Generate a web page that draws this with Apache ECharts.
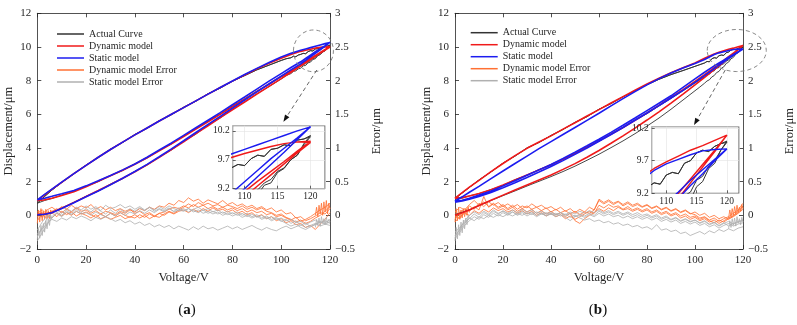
<!DOCTYPE html>
<html>
<head>
<meta charset="utf-8">
<script src="https://cdn.jsdelivr.net/npm/echarts@6/dist/echarts.min.js"></script>
<style>
html, body { margin: 0; padding: 0; background: #fff; }
#chart { width: 797px; height: 325px; }
</style>
</head>
<body>
<div id="chart"></div>
<script>
// voltage grid of the model branches
const V_LOOP = [0, 3, 6, 10, 15, 20, 25, 30, 35, 40, 45, 50, 55, 60, 65, 70, 75, 80, 85, 90, 95, 100, 104, 108, 110, 112, 114, 116, 118, 120];
// voltage grid of the measured branches (finer near the turning point)
const V_ACT = [0, 3, 6, 10, 15, 20, 25, 30, 35, 40, 45, 50, 55, 60, 65, 70, 75, 80, 85, 90, 95,
  100, 102, 104, 105, 106, 107, 108, 109, 110, 111, 112, 113, 114, 115, 116, 117, 118, 119, 120];
// voltage grid of the error traces
const V_ERR = [0, 2, 4, 6, 8, 10, 12, 14, 16, 18, 20, 22, 24, 26, 28, 30, 32, 34, 36, 38, 40, 42, 44, 46, 48, 50, 52, 54, 56, 58,
  60, 62, 64, 66, 68, 70, 72, 74, 76, 78, 80, 82, 84, 86, 88, 90, 92, 94, 96, 98, 100, 102, 104, 106, 108, 110, 112, 114, 116, 118, 120];
// dense bits at the two ends of the sweep
const V_START = [0, 0.5, 1, 1.5, 2, 2.5, 3, 3.5, 4, 4.5, 5, 5.5, 6];
const V_END = [114, 114.5, 115, 115.5, 116, 116.5, 117, 117.5, 118, 118.5, 119, 119.5, 120];

const NAMES = ['Actual Curve', 'Dynamic model', 'Static model', 'Dynamic model Error', 'Static model Error'];

// ---- panel (a) : displacement (um) ----
const A_ACT_UP = [0.72, 1.12, 1.5, 1.95, 2.47, 2.98, 3.44, 3.93, 4.33, 4.8, 5.17, 5.62, 5.98, 6.42, 6.78, 7.22, 7.56, 7.97, 8.3, 8.64, 8.92,
  9.2, 9.3, 9.36, 9.45, 9.42, 9.52, 9.56, 9.62, 9.6, 9.72, 9.78, 9.76, 9.88, 9.9, 9.96, 9.94, 10.04, 10.06, 10.12];
const A_ACT_MID = [0.75, 0.88, 1.0, 1.2, 1.42, 1.72, 2.0, 2.36, 2.66, 3.06, 3.4, 3.86, 4.24, 4.72, 5.13, 5.6, 6.02, 6.5, 6.92, 7.38, 7.78,
  8.22, 8.36, 8.5, 8.62, 8.66, 8.8, 8.84, 8.96, 9.0, 9.12, 9.18, 9.3, 9.36, 9.5, 9.56, 9.7, 9.78, 9.96, 10.1];
const A_ACT_LOW = [0.0, 0.05, 0.16, 0.43, 0.76, 1.13, 1.44, 1.85, 2.18, 2.62, 2.99, 3.47, 3.88, 4.4, 4.82, 5.36, 5.78, 6.3, 6.74, 7.22, 7.65,
  8.1, 8.3, 8.42, 8.55, 8.58, 8.7, 8.74, 8.88, 8.9, 9.06, 9.1, 9.26, 9.3, 9.48, 9.55, 9.7, 9.78, 9.98, 10.12];
const A_DYN_UP = [0.88, 1.21, 1.54, 1.96, 2.48, 2.97, 3.45, 3.91, 4.35, 4.78, 5.19, 5.6, 6.0, 6.4, 6.8, 7.2, 7.59, 7.97, 8.34, 8.7, 9.03, 9.33, 9.55, 9.74, 9.81, 9.87, 9.93, 9.98, 10.01, 10.03];
const A_DYN_MID = [0.85, 0.92, 1.02, 1.18, 1.4, 1.7, 2.02, 2.35, 2.68, 3.03, 3.42, 3.83, 4.25, 4.68, 5.12, 5.56, 6.0, 6.45, 6.9, 7.35, 7.8, 8.25, 8.6, 8.95, 9.15, 9.33, 9.5, 9.67, 9.85, 10.02];
const A_DYN_LOW = [0.05, 0.08, 0.17, 0.42, 0.77, 1.12, 1.47, 1.83, 2.2, 2.58, 3.0, 3.44, 3.9, 4.37, 4.85, 5.32, 5.8, 6.27, 6.73, 7.2, 7.66, 8.12, 8.5, 8.88, 9.06, 9.25, 9.44, 9.63, 9.82, 10.0];
const A_STA_UP = [0.92, 1.24, 1.56, 1.97, 2.48, 2.97, 3.45, 3.91, 4.35, 4.78, 5.19, 5.6, 6.0, 6.4, 6.8, 7.2, 7.59, 7.98, 8.36, 8.73, 9.08, 9.4, 9.62, 9.8, 9.88, 9.96, 10.04, 10.12, 10.2, 10.27];
const A_STA_MID = [0.92, 1.02, 1.13, 1.28, 1.48, 1.75, 2.05, 2.37, 2.7, 3.05, 3.45, 3.88, 4.3, 4.75, 5.2, 5.65, 6.1, 6.57, 7.03, 7.5, 7.97, 8.42, 8.78, 9.12, 9.32, 9.52, 9.72, 9.9, 10.08, 10.27];
const A_STA_LOW = [0.03, 0.06, 0.15, 0.4, 0.75, 1.1, 1.45, 1.82, 2.2, 2.6, 3.03, 3.48, 3.95, 4.43, 4.92, 5.4, 5.88, 6.37, 6.85, 7.33, 7.8, 8.27, 8.64, 9.0, 9.2, 9.41, 9.62, 9.83, 10.05, 10.27];

// ---- panel (a) : errors (um) ----
const A_DYN_ERR_1 = [0.03, 0.08, 0.02, 0.06, 0.10, 0.04, 0.09, 0.05, 0.11, 0.06,
  0.08, 0.03, 0.07, 0.02, 0.06, 0.04, 0.01, 0.06, 0.03, 0.08,
  0.05, 0.10, 0.07, 0.12, 0.09, 0.14, 0.12, 0.18, 0.15, 0.22,
  0.19, 0.26, 0.21, 0.24, 0.18, 0.23, 0.20, 0.17, 0.22, 0.16,
  0.19, 0.14, 0.17, 0.12, 0.15, 0.10, 0.13, 0.08, 0.11, 0.05,
  0.08, 0.02, 0.04, -0.04, -0.02, -0.08, -0.05, -0.01, 0.04, 0.02, 0.10];
const A_DYN_ERR_2 = [-0.08, 0.02, -0.05, 0.04, -0.02, 0.06, 0.01, 0.05, -0.01, 0.03,
  0.00, -0.04, 0.01, -0.05, -0.02, -0.06, -0.03, 0.00, -0.05, -0.02,
  -0.04, 0.01, -0.03, 0.02, -0.02, 0.03, 0.00, 0.05, 0.02, 0.06,
  0.08, 0.04, 0.09, 0.05, 0.10, 0.06, 0.11, 0.07, 0.09, 0.05,
  0.08, 0.03, 0.06, 0.01, 0.04, -0.02, 0.01, -0.05, -0.02, -0.08,
  -0.05, -0.11, -0.08, -0.14, -0.12, -0.18, -0.15, -0.21, -0.13, -0.06, 0.04];
const A_DYN_ERR_3 = [0.06, -0.03, 0.08, 0.12, 0.07, 0.13, 0.09, 0.15, 0.10, 0.14,
  0.11, 0.16, 0.09, 0.13, 0.08, 0.12, 0.07, 0.10, 0.06, 0.09,
  0.03, 0.06, 0.01, 0.04, -0.01, 0.03, 0.05, 0.09, 0.12, 0.10,
  0.14, 0.11, 0.16, 0.12, 0.15, 0.10, 0.13, 0.09, 0.12, 0.08,
  0.11, 0.07, 0.10, 0.05, 0.08, 0.04, 0.06, 0.01, 0.03, -0.02,
  0.00, -0.04, -0.07, -0.03, -0.09, -0.06, -0.02, 0.03, 0.08, 0.12, 0.18];
const A_DYN_ERR_4 = [-0.02, 0.05, 0.00, -0.04, 0.03, -0.01, 0.04, 0.00, 0.06, 0.02,
  0.05, 0.01, -0.03, 0.02, -0.02, 0.03, -0.01, 0.04, 0.00, -0.03,
  0.01, -0.04, 0.00, -0.05, -0.01, -0.03, 0.02, 0.06, 0.03, 0.08,
  0.12, 0.17, 0.13, 0.19, 0.15, 0.18, 0.14, 0.16, 0.12, 0.15,
  0.13, 0.10, 0.14, 0.09, 0.12, 0.08, 0.11, 0.06, 0.04, 0.00,
  0.02, -0.03, -0.06, -0.10, -0.07, -0.12, -0.09, -0.04, 0.00, 0.06, 0.13];
const A_DYN_ERR_START = [-0.12, 0.08, -0.10, 0.10, -0.08, 0.06, -0.06, 0.09, -0.04, 0.07, -0.05, 0.08, 0.02];
const A_DYN_ERR_END = [0.00, 0.12, -0.02, 0.15, 0.02, 0.18, 0.00, 0.20, 0.05, 0.22, 0.02, 0.18, 0.10];
const A_STA_ERR_1 = [-0.32, -0.18, -0.05, 0.04, 0.08, 0.03, 0.10, 0.06, 0.12, 0.08,
  0.14, 0.09, 0.13, 0.07, 0.15, 0.10, 0.12, 0.16, 0.11, 0.14,
  0.09, 0.13, 0.08, 0.12, 0.06, 0.10, 0.07, 0.11, 0.05, 0.08,
  0.06, 0.10, 0.07, 0.04, 0.08, 0.03, 0.06, 0.02, 0.05, 0.01,
  0.04, 0.00, 0.03, -0.02, 0.02, -0.03, 0.00, -0.05, -0.02, -0.06,
  -0.04, -0.08, -0.06, -0.11, -0.09, -0.14, -0.10, -0.07, -0.11, -0.08, -0.12];
const A_STA_ERR_2 = [-0.22, -0.10, 0.00, -0.04, 0.03, -0.02, 0.05, 0.01, 0.06, 0.02,
  0.04, 0.00, 0.05, 0.01, -0.02, 0.03, -0.01, 0.04, 0.00, 0.05,
  0.02, 0.07, 0.03, 0.08, 0.04, 0.09, 0.05, 0.10, 0.06, 0.11,
  0.07, 0.10, 0.05, 0.08, 0.03, 0.06, 0.02, 0.05, 0.00, 0.03,
  -0.01, 0.02, -0.03, 0.00, -0.04, -0.01, -0.06, -0.03, -0.08, -0.05,
  -0.09, -0.06, -0.12, -0.08, -0.15, -0.11, -0.17, -0.13, -0.09, -0.12, -0.06];
const A_STA_ERR_3 = [-0.28, -0.20, -0.12, -0.06, -0.09, -0.04, -0.07, -0.02, -0.05, -0.01,
  -0.04, -0.08, -0.03, -0.06, -0.02, -0.05, -0.09, -0.06, -0.11, -0.08,
  -0.13, -0.10, -0.15, -0.12, -0.17, -0.14, -0.18, -0.15, -0.20, -0.16,
  -0.19, -0.22, -0.17, -0.21, -0.16, -0.20, -0.18, -0.22, -0.19, -0.16,
  -0.20, -0.17, -0.21, -0.18, -0.15, -0.19, -0.22, -0.18, -0.21, -0.23,
  -0.19, -0.16, -0.20, -0.17, -0.14, -0.18, -0.15, -0.12, -0.16, -0.13, -0.10];
const A_STA_ERR_4 = [-0.38, -0.26, -0.14, -0.02, 0.05, 0.00, 0.07, 0.02, 0.09, 0.04,
  0.10, 0.05, 0.11, 0.06, 0.02, 0.08, 0.03, 0.09, 0.04, 0.10,
  0.06, 0.11, 0.07, 0.12, 0.08, 0.13, 0.09, 0.14, 0.10, 0.07,
  0.10, 0.05, 0.09, 0.12, 0.07, 0.10, 0.05, 0.08, 0.03, 0.06,
  0.02, 0.05, 0.00, 0.03, -0.02, 0.01, -0.04, -0.01, -0.06, -0.03,
  -0.08, -0.12, -0.16, -0.13, -0.18, -0.21, -0.17, -0.14, -0.10, -0.13, -0.15];
const A_STA_ERR_START = [-0.36, -0.20, -0.34, -0.15, -0.30, -0.12, -0.25, -0.08, -0.20, -0.05, -0.15, 0.00, -0.06];
const A_STA_ERR_END = [-0.18, -0.06, -0.15, -0.04, -0.16, -0.02, -0.12, -0.05, -0.14, -0.03, -0.11, -0.06, -0.10];

// ---- panel (b) : displacement (um) ----
const B_ACT_UP = [0.98, 1.33, 1.66, 2.1, 2.58, 3.1, 3.52, 4.0, 4.33, 4.74, 5.1, 5.52, 5.86, 6.3, 6.64, 7.04, 7.4, 7.76, 8.08, 8.36, 8.6,
  8.85, 8.95, 9.05, 9.14, 9.12, 9.3, 9.36, 9.34, 9.48, 9.52, 9.5, 9.66, 9.7, 9.82, 9.86, 9.84, 9.92, 9.96, 10.0];
const B_ACT_MID = [0.9, 1.02, 1.16, 1.28, 1.53, 1.78, 2.12, 2.38, 2.72, 2.98, 3.35, 3.66, 4.06, 4.4, 4.84, 5.2, 5.66, 6.04, 6.5, 6.94, 7.4,
  7.86, 8.05, 8.22, 8.36, 8.38, 8.55, 8.58, 8.74, 8.78, 8.95, 9.0, 9.16, 9.22, 9.4, 9.46, 9.62, 9.7, 9.86, 10.0];
const B_ACT_LOW = [0.05, 0.18, 0.33, 0.58, 0.88, 1.17, 1.45, 1.74, 2.02, 2.3, 2.6, 2.92, 3.27, 3.63, 4.02, 4.42, 4.85, 5.3, 5.78, 6.3, 6.85,
  7.4, 7.62, 7.85, 7.98, 8.05, 8.22, 8.3, 8.48, 8.55, 8.74, 8.82, 9.02, 9.1, 9.3, 9.38, 9.58, 9.66, 9.86, 9.98];
const B_DYN_UP = [1.02, 1.35, 1.68, 2.08, 2.6, 3.08, 3.55, 3.98, 4.36, 4.72, 5.12, 5.5, 5.9, 6.28, 6.67, 7.05, 7.43, 7.8, 8.15, 8.47, 8.76, 9.05, 9.33, 9.58, 9.68, 9.77, 9.86, 9.93, 10.01, 10.09];
const B_DYN_MID = [0.95, 1.05, 1.15, 1.3, 1.52, 1.8, 2.1, 2.4, 2.7, 3.0, 3.33, 3.68, 4.04, 4.42, 4.82, 5.22, 5.65, 6.08, 6.53, 7.0, 7.47, 7.95, 8.35, 8.77, 8.98, 9.2, 9.42, 9.64, 9.86, 10.09];
const B_DYN_LOW = [0.0, 0.15, 0.32, 0.58, 0.9, 1.2, 1.5, 1.8, 2.1, 2.4, 2.73, 3.07, 3.45, 3.85, 4.28, 4.72, 5.18, 5.66, 6.15, 6.67, 7.2, 7.75, 8.2, 8.65, 8.88, 9.12, 9.36, 9.6, 9.84, 10.09];
const B_STA_UP = [0.85, 1.1, 1.37, 1.72, 2.18, 2.63, 3.08, 3.52, 3.96, 4.38, 4.8, 5.22, 5.64, 6.06, 6.5, 6.93, 7.35, 7.75, 8.12, 8.45, 8.75, 9.02, 9.26, 9.55, 9.65, 9.72, 9.79, 9.85, 9.87, 9.88];
const B_STA_MID = [0.82, 0.9, 1.02, 1.2, 1.45, 1.75, 2.06, 2.38, 2.7, 3.02, 3.38, 3.75, 4.13, 4.52, 4.93, 5.35, 5.78, 6.22, 6.66, 7.1, 7.6, 8.1, 8.5, 8.88, 9.05, 9.22, 9.4, 9.56, 9.72, 9.88];
const B_STA_LOW = [0.78, 0.85, 0.95, 1.12, 1.36, 1.64, 1.94, 2.25, 2.57, 2.9, 3.25, 3.62, 4.0, 4.4, 4.8, 5.22, 5.65, 6.08, 6.52, 6.97, 7.42, 7.9, 8.3, 8.72, 8.92, 9.12, 9.32, 9.5, 9.7, 9.88];

// ---- panel (b) : errors (um) ----
const B_DYN_ERR_1 = [0.05, 0.12, 0.08, 0.16, 0.22, 0.15, 0.20, 0.13, 0.18, 0.12,
  0.16, 0.10, 0.15, 0.09, 0.14, 0.11, 0.17, 0.12, 0.15, 0.10,
  0.13, 0.08, 0.12, 0.06, 0.10, 0.04, 0.09, 0.05, 0.12, 0.08,
  0.22, 0.17, 0.21, 0.16, 0.20, 0.14, 0.18, 0.13, 0.16, 0.12,
  0.15, 0.10, 0.13, 0.08, 0.11, 0.06, 0.09, 0.04, 0.07, 0.02,
  0.05, 0.00, 0.03, -0.03, 0.00, -0.05, -0.02, -0.06, -0.01, 0.04, 0.12];
const B_DYN_ERR_2 = [-0.06, 0.04, 0.10, 0.06, 0.13, 0.08, 0.28, 0.12, 0.17, 0.10,
  0.14, 0.08, 0.12, 0.06, 0.10, 0.05, 0.09, 0.03, 0.07, 0.02,
  0.06, 0.01, 0.04, -0.02, 0.03, -0.08, -0.12, -0.05, 0.00, 0.04,
  0.10, 0.06, 0.11, 0.07, 0.12, 0.08, 0.10, 0.06, 0.09, 0.05,
  0.08, 0.03, 0.06, 0.01, 0.04, -0.01, 0.02, -0.04, -0.01, -0.06,
  -0.03, -0.08, -0.05, -0.10, -0.07, -0.12, -0.08, -0.04, 0.00, 0.06, 0.14];
const B_DYN_ERR_3 = [0.00, -0.05, 0.06, 0.14, 0.09, 0.18, 0.13, 0.20, 0.15, 0.19,
  0.13, 0.17, 0.12, 0.16, 0.10, 0.14, 0.09, 0.12, 0.07, 0.11,
  0.05, 0.09, 0.04, 0.07, 0.02, 0.06, 0.01, 0.05, 0.03, 0.08,
  0.24, 0.19, 0.23, 0.18, 0.21, 0.16, 0.20, 0.15, 0.18, 0.13,
  0.16, 0.11, 0.14, 0.09, 0.12, 0.07, 0.10, 0.05, 0.08, 0.03,
  0.01, -0.04, -0.02, -0.07, -0.04, -0.09, -0.05, -0.02, 0.03, 0.08, 0.18];
const B_DYN_ERR_4 = [-0.10, -0.02, 0.03, 0.00, 0.07, 0.03, 0.09, 0.05, 0.11, 0.07,
  0.10, 0.05, 0.08, 0.03, 0.07, 0.02, 0.06, 0.00, 0.04, -0.01,
  0.03, -0.02, 0.01, -0.05, -0.01, -0.06, -0.02, 0.02, 0.06, 0.03,
  0.15, 0.11, 0.16, 0.12, 0.14, 0.09, 0.13, 0.08, 0.11, 0.07,
  0.10, 0.05, 0.08, 0.03, 0.06, 0.01, 0.04, -0.01, 0.02, -0.03,
  -0.01, -0.06, -0.03, -0.08, -0.11, -0.07, -0.10, -0.05, -0.02, 0.03, 0.09];
const B_DYN_ERR_START = [-0.10, 0.10, -0.08, 0.12, -0.06, 0.08, -0.04, 0.10, -0.02, 0.09, 0.00, 0.12, 0.04];
const B_DYN_ERR_END = [-0.04, 0.08, -0.02, 0.10, 0.00, 0.13, 0.02, 0.15, 0.04, 0.12, 0.06, 0.16, 0.10];
const B_STA_ERR_1 = [-0.30, -0.22, -0.12, -0.05, 0.02, -0.03, 0.04, 0.00, 0.06, 0.02,
  0.07, 0.03, 0.08, 0.04, 0.09, 0.05, 0.08, 0.03, 0.06, 0.02,
  0.05, 0.01, 0.04, 0.00, 0.03, -0.02, 0.02, -0.01, 0.03, 0.00,
  0.06, 0.02, 0.05, 0.01, 0.04, 0.00, 0.03, -0.02, 0.01, -0.03,
  0.00, -0.04, -0.01, -0.06, -0.03, -0.07, -0.04, -0.09, -0.06, -0.10,
  -0.07, -0.12, -0.09, -0.14, -0.11, -0.16, -0.12, -0.09, -0.13, -0.10, -0.08];
const B_STA_ERR_2 = [-0.35, -0.25, -0.15, -0.08, -0.02, -0.06, 0.01, -0.03, 0.03, -0.01,
  0.04, 0.00, 0.05, 0.01, 0.06, 0.02, 0.05, 0.00, 0.03, -0.01,
  0.02, -0.02, 0.01, -0.03, -0.08, -0.02, 0.00, -0.03, 0.01, -0.02,
  0.03, -0.01, 0.02, -0.02, 0.00, -0.04, -0.01, -0.05, -0.02, -0.06,
  -0.03, -0.07, -0.04, -0.09, -0.06, -0.10, -0.07, -0.12, -0.09, -0.13,
  -0.10, -0.15, -0.12, -0.17, -0.14, -0.19, -0.15, -0.12, -0.16, -0.13, -0.11];
const B_STA_ERR_3 = [-0.25, -0.18, -0.10, -0.04, -0.08, -0.02, -0.05, 0.00, -0.03, 0.01,
  -0.02, 0.02, -0.01, 0.03, 0.00, 0.04, 0.01, 0.05, 0.02, 0.04,
  0.01, 0.03, -0.01, 0.02, -0.03, 0.00, -0.04, -0.07, -0.05, -0.09,
  -0.07, -0.11, -0.09, -0.13, -0.11, -0.15, -0.13, -0.17, -0.15, -0.19,
  -0.17, -0.21, -0.14, -0.22, -0.20, -0.24, -0.22, -0.27, -0.25, -0.30,
  -0.27, -0.24, -0.28, -0.23, -0.26, -0.21, -0.24, -0.20, -0.23, -0.19, -0.17];
const B_STA_ERR_4 = [-0.33, -0.20, -0.08, 0.00, 0.05, 0.01, 0.06, 0.02, 0.08, 0.03,
  0.06, 0.02, 0.05, 0.00, 0.04, -0.01, 0.03, -0.02, 0.02, 0.00,
  0.03, 0.00, 0.04, 0.01, 0.05, 0.02, 0.06, 0.03, 0.07, 0.04,
  0.08, 0.04, 0.07, 0.03, 0.06, 0.02, 0.05, 0.01, 0.04, 0.00,
  0.02, -0.02, 0.01, -0.04, -0.01, -0.06, -0.03, -0.08, -0.05, -0.09,
  -0.07, -0.11, -0.08, -0.13, -0.10, -0.15, -0.11, -0.16, -0.12, -0.09, -0.07];
const B_STA_ERR_START = [-0.38, -0.18, -0.35, -0.14, -0.30, -0.10, -0.26, -0.07, -0.20, -0.04, -0.14, 0.00, -0.05];
const B_STA_ERR_END = [-0.20, -0.08, -0.18, -0.05, -0.15, -0.04, -0.16, -0.02, -0.12, -0.05, -0.14, -0.03, -0.10];

const PANELS = [
  {
    act: [A_ACT_LOW, A_ACT_UP, A_ACT_MID],
    dyn: [A_DYN_LOW, A_DYN_UP, A_DYN_MID],
    sta: [A_STA_LOW, A_STA_UP, A_STA_MID],
    dynErr: [A_DYN_ERR_1, A_DYN_ERR_2, A_DYN_ERR_3, A_DYN_ERR_4],
    staErr: [A_STA_ERR_1, A_STA_ERR_2, A_STA_ERR_3, A_STA_ERR_4],
    dynEdge: [A_DYN_ERR_START, A_DYN_ERR_END],
    staEdge: [A_STA_ERR_START, A_STA_ERR_END]
  },
  {
    act: [B_ACT_LOW, B_ACT_UP, B_ACT_MID],
    dyn: [B_DYN_LOW, B_DYN_UP, B_DYN_MID],
    sta: [B_STA_LOW, B_STA_UP, B_STA_MID],
    dynErr: [B_DYN_ERR_1, B_DYN_ERR_2, B_DYN_ERR_3, B_DYN_ERR_4],
    staErr: [B_STA_ERR_1, B_STA_ERR_2, B_STA_ERR_3, B_STA_ERR_4],
    dynEdge: [B_DYN_ERR_START, B_DYN_ERR_END],
    staEdge: [B_STA_ERR_START, B_STA_ERR_END]
  }
];

// layout (pixels) and annotation positions (data units)
const LAYOUT = [
  {
    main: { left: 37.3, top: 13.3, width: 292.7, height: 235.7 },
    inset: { left: 232.7, top: 125.7, width: 92.3, height: 63 },
    insetX: [108.2, 122.2], insetY: [9.2, 10.29],
    legend: { left: 57, top: 28 },
    ellipse: { c: [113.2, 9.77], rx: 8.2, ry: 1.24 },
    arrow: [[114.6, 8.63], [100.9, 5.56]],
    tag: { x: 187, y: 310, t: 'a' }
  },
  {
    main: { left: 455, top: 13.3, width: 292.7, height: 235.7 },
    inset: { left: 651.7, top: 126.7, width: 87.3, height: 66.6 },
    insetX: [107.6, 122], insetY: [9.2, 10.22],
    legend: { left: 470.7, top: 26.7 },
    ellipse: { c: [117.4, 9.79], rx: 12.3, ry: 1.25 },
    arrow: [[112.6, 8.63], [99.6, 5.36]],
    tag: { x: 598, y: 310, t: 'b' }
  }
];

const FONT = "'Liberation Serif', 'DejaVu Serif', serif";
const INK = '#262626';
const C_ACT = '#333333', C_DYN = '#f01a1a', C_STA = '#1c1cf0', C_DERR = '#ff7033', C_SERR = '#b0b0b0';

const minus = v => (v < 0 ? '\u2212' + Math.abs(v) : String(v));

function pts(xs, ys) { return xs.map((x, i) => [x, ys[i]]); }
// lower rise, fall along upper branch, rise along middle branch, fall again
function loop(xs, br) {
  const down = pts(xs, br[1]).reverse();
  return pts(xs, br[0]).concat(down, pts(xs, br[2]), down);
}

function line(name, data, xi, yi, color, width, z, opacity) {
  return {
    name, type: 'line', xAxisIndex: xi, yAxisIndex: yi, data,
    symbol: 'none', showSymbol: false, z, silent: true, animation: false, clip: true,
    lineStyle: { color, width, opacity: opacity == null ? 1 : opacity },
    itemStyle: { color }
  };
}

const grid = [], xAxis = [], yAxis = [], series = [], legend = [];
const axisCommon = {
  axisLine: { show: true, onZero: false, lineStyle: { color: INK, width: 0.8 } },
  axisTick: { show: true, inside: true, length: 4, lineStyle: { color: INK, width: 0.8 } },
  splitLine: { show: false }
};

LAYOUT.forEach((L, p) => {
  const g = 2 * p, ax = 3 * p;
  grid.push(Object.assign({ containLabel: false }, L.main));
  grid.push(Object.assign({ show: true, backgroundColor: '#fff', borderColor: INK, borderWidth: 0.8, z: 5 }, L.inset));

  xAxis.push(Object.assign({}, axisCommon, {
    type: 'value', gridIndex: g, min: 0, max: 120, interval: 20, position: 'bottom',
    name: 'Voltage/V', nameLocation: 'middle', nameGap: 19,
    nameTextStyle: { fontFamily: FONT, fontSize: 12.5, color: INK },
    axisLabel: { fontFamily: FONT, fontSize: 11, color: INK, margin: 6 }
  }));
  xAxis.push(Object.assign({}, axisCommon, {
    type: 'value', gridIndex: g, min: 0, max: 120, interval: 20, position: 'top',
    axisLabel: { show: false }
  }));
  xAxis.push({
    type: 'value', gridIndex: g + 1, min: L.insetX[0], max: L.insetX[1], splitNumber: 3, z: 6,
    axisLine: { show: false },
    axisTick: { show: true, inside: true, length: 3, lineStyle: { color: INK, width: 0.7 } },
    axisLabel: { fontFamily: FONT, fontSize: 9.5, color: INK, margin: 3, showMinLabel: false, showMaxLabel: false },
    splitLine: { show: true, lineStyle: { color: '#e2e2e2', width: 0.6 } }
  });

  yAxis.push(Object.assign({}, axisCommon, {
    type: 'value', gridIndex: g, min: -2, max: 12, interval: 2, position: 'left',
    name: 'Displacement/\u03bcm', nameLocation: 'middle', nameRotate: 90, nameGap: 16,
    nameTextStyle: { fontFamily: FONT, fontSize: 12.5, color: INK },
    axisLabel: { fontFamily: FONT, fontSize: 11, color: INK, margin: 6, formatter: minus }
  }));
  yAxis.push(Object.assign({}, axisCommon, {
    type: 'value', gridIndex: g, min: -0.5, max: 3, interval: 0.5, position: 'right',
    name: 'Error/\u03bcm', nameLocation: 'middle', nameRotate: 90, nameGap: 40,
    nameTextStyle: { fontFamily: FONT, fontSize: 12.5, color: INK },
    axisLabel: { fontFamily: FONT, fontSize: 11, color: INK, margin: 5, formatter: minus }
  }));
  yAxis.push({
    type: 'value', gridIndex: g + 1, min: L.insetY[0], max: L.insetY[1], interval: 0.5, z: 6,
    axisLine: { show: false },
    axisTick: { show: true, inside: true, length: 3, lineStyle: { color: INK, width: 0.7 } },
    axisLabel: { fontFamily: FONT, fontSize: 9.5, color: INK, margin: 3, showMaxLabel: false, formatter: v => v.toFixed(1) },
    splitLine: { show: true, lineStyle: { color: '#e2e2e2', width: 0.6 } }
  });

  const P = PANELS[p];
  P.dynErr.forEach(e => series.push(line(NAMES[3], pts(V_ERR, e), ax, ax + 1, C_DERR, 0.9, 2, 0.9)));
  series.push(line(NAMES[3], pts(V_START, P.dynEdge[0]), ax, ax + 1, C_DERR, 0.9, 2, 0.9));
  series.push(line(NAMES[3], pts(V_END, P.dynEdge[1]), ax, ax + 1, C_DERR, 0.9, 2, 0.9));
  P.staErr.forEach(e => series.push(line(NAMES[4], pts(V_ERR, e), ax, ax + 1, C_SERR, 0.9, 2, 0.9)));
  series.push(line(NAMES[4], pts(V_START, P.staEdge[0]), ax, ax + 1, C_SERR, 0.9, 2, 0.9));
  series.push(line(NAMES[4], pts(V_END, P.staEdge[1]), ax, ax + 1, C_SERR, 0.9, 2, 0.9));
  [[P.act, V_ACT, C_ACT, 0.9], [P.dyn, V_LOOP, C_DYN, 1.6], [P.sta, V_LOOP, C_STA, 1.6]].forEach(([br, xs, c, w], k) => {
    const d = loop(xs, br);
    series.push(line(NAMES[k], d, ax, ax, c, w, 3));
    series.push(line(NAMES[k], d, ax + 2, ax + 2, c, k === 0 ? 1 : w * 0.9, 7));
  });

  legend.push({
    orient: 'vertical', left: L.legend.left, top: L.legend.top, padding: 0, itemGap: 0,
    itemWidth: 27, itemHeight: 1.5, icon: 'rect', selectedMode: false, data: NAMES,
    textStyle: { fontFamily: FONT, fontSize: 10, lineHeight: 12, color: INK }
  });
});

const chart = echarts.init(document.getElementById('chart'), null, { renderer: 'canvas' });
chart.setOption({ animation: false, backgroundColor: '#fff', grid, xAxis, yAxis, legend, series });

// annotations: dashed ellipse, dashed arrow, panel tags
const elements = [];
LAYOUT.forEach((L, p) => {
  const toPx = v => chart.convertToPixel({ xAxisIndex: 3 * p, yAxisIndex: 3 * p }, v);
  const c = toPx(L.ellipse.c);
  const e = toPx([L.ellipse.c[0] + L.ellipse.rx, L.ellipse.c[1] + L.ellipse.ry]);
  elements.push({
    type: 'ellipse', silent: true, z: 20,
    shape: { cx: c[0], cy: c[1], rx: e[0] - c[0], ry: c[1] - e[1] },
    style: { fill: 'none', stroke: '#7d7d7d', lineWidth: 0.9, lineDash: [4, 3] }
  });
  const a = toPx(L.arrow[0]), b = toPx(L.arrow[1]);
  const dx = b[0] - a[0], dy = b[1] - a[1], len = Math.hypot(dx, dy);
  const ux = dx / len, uy = dy / len, hl = 7, hw = 2.6;
  const base = [b[0] - ux * hl, b[1] - uy * hl];
  elements.push({
    type: 'line', silent: true, z: 20,
    shape: { x1: a[0], y1: a[1], x2: base[0], y2: base[1] },
    style: { stroke: '#555', lineWidth: 0.9, lineDash: [4, 3] }
  });
  elements.push({
    type: 'polygon', silent: true, z: 20,
    shape: { points: [b, [base[0] - uy * hw, base[1] + ux * hw], [base[0] + uy * hw, base[1] - ux * hw]] },
    style: { fill: '#111' }
  });
  elements.push({
    type: 'text', silent: true, z: 20, x: L.tag.x, y: L.tag.y,
    style: {
      text: '{p|(}{b|' + L.tag.t + '}{p|)}', align: 'center', verticalAlign: 'middle',
      rich: {
        p: { fontFamily: FONT, fontSize: 15, fill: '#111' },
        b: { fontFamily: FONT, fontSize: 15, fontWeight: 'bold', fill: '#111' }
      }
    }
  });
});
chart.setOption({ graphic: { elements } });
</script>
</body>
</html>
